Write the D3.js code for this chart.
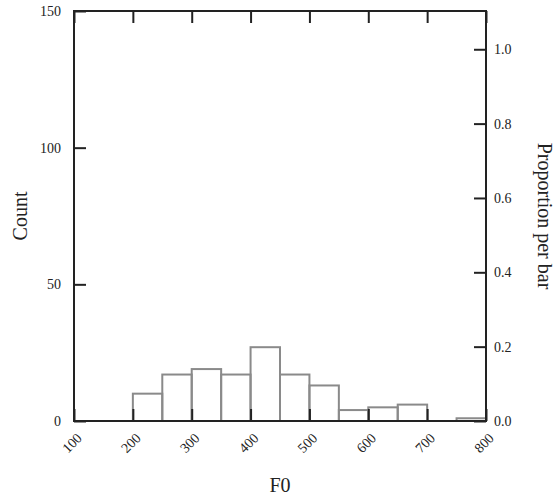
<!DOCTYPE html>
<html>
<head>
<meta charset="utf-8">
<script src="https://cdn.jsdelivr.net/npm/d3@7"></script>
<style>
  body { margin: 0; background: #fff; }
  svg text { font-family: "Liberation Serif", "DejaVu Serif", serif; fill: #222; font-variant-numeric: oldstyle-nums; }
</style>
</head>
<body>
<svg id="chart" width="556" height="501"></svg>
<script>
/*
Chart data
*/
var binStarts = [200, 250, 300, 350, 400, 450, 500, 550, 600, 650, 700, 750];
var binWidth = 50;
var counts = [10, 17, 19, 17, 27, 17, 13, 4, 5, 6, 0, 1];
var xTicks = [100, 200, 300, 400, 500, 600, 700, 800];
var countTicks = [0, 50, 100, 150];
var propTicks = [0, 0.2, 0.4, 0.6, 0.8, 1.0];

var total = d3.sum(counts);

var margin = {top: 11, right: 70, bottom: 80, left: 74};
var width = 556 - margin.left - margin.right;
var height = 501 - margin.top - margin.bottom;

var svg = d3.select("#chart");
var g = svg.append("g")
           .attr("transform", "translate(" + margin.left + "," + margin.top + ")");

var x = d3.scaleLinear().domain([100, 800]).range([0, width]);
var y = d3.scaleLinear().domain([0, 150]).range([height, 0]);
var yProp = d3.scaleLinear().domain([0, 150 / total]).range([height, 0]);

/* bars */
g.selectAll("rect.bar")
 .data(counts)
 .enter()
 .append("rect")
 .attr("class", "bar")
 .attr("x", function(d, i){ return x(binStarts[i]); })
 .attr("width", function(d, i){ return x(binStarts[i] + binWidth) - x(binStarts[i]); })
 .attr("y", function(d){ return y(d); })
 .attr("height", function(d){ return y(0) - y(d); })
 .style("fill", "none")
 .style("stroke", function(d){ return d > 0 ? "#8a8a8a" : "none"; })
 .style("stroke-width", 2);

/* frame */
g.append("rect")
 .attr("width", width)
 .attr("height", height)
 .style("fill", "none")
 .style("stroke", "#222")
 .style("stroke-width", 2);

var tickLen = 12;

/* bottom axis */
var xAxis = g.append("g")
             .attr("transform", "translate(0," + height + ")")
             .call(d3.axisBottom(x).tickValues(xTicks).tickSizeInner(-tickLen).tickSizeOuter(0).tickPadding(10));
xAxis.select(".domain").remove();
xAxis.selectAll("line").style("stroke", "#222").style("stroke-width", 2);
xAxis.selectAll("text")
     .style("font-size", "14px")
     .attr("text-anchor", "end")
     .attr("dy", "0.35em")
     .attr("transform", "translate(2,6) rotate(-45)")
     .attr("x", -4)
     .attr("y", 8);

/* top axis (ticks only) */
var xTop = g.append("g")
            .call(d3.axisTop(x).tickValues(xTicks).tickSizeInner(-tickLen).tickSizeOuter(0).tickFormat(""));
xTop.select(".domain").remove();
xTop.selectAll("line").style("stroke", "#222").style("stroke-width", 2);

/* left axis */
var yAxis = g.append("g")
             .call(d3.axisLeft(y).tickValues(countTicks).tickSizeInner(-tickLen).tickSizeOuter(0).tickPadding(13));
yAxis.select(".domain").remove();
yAxis.selectAll("line").style("stroke", "#222").style("stroke-width", 2);
yAxis.selectAll("text").style("font-size", "14px");

/* right axis */
var yAxisR = g.append("g")
              .attr("transform", "translate(" + width + ",0)")
              .call(d3.axisRight(yProp).tickValues(propTicks).tickSizeInner(-tickLen).tickSizeOuter(0).tickPadding(8).tickFormat(d3.format(".1f")));
yAxisR.select(".domain").remove();
yAxisR.selectAll("line").style("stroke", "#222").style("stroke-width", 2);
yAxisR.selectAll("text").style("font-size", "14px");

/* titles */
svg.append("text")
   .attr("transform", "translate(27," + (margin.top + height / 2) + ") rotate(-90)")
   .attr("text-anchor", "middle")
   .style("font-size", "20px")
   .text("Count");

svg.append("text")
   .attr("transform", "translate(538," + (margin.top + height / 2) + ") rotate(90)")
   .attr("text-anchor", "middle")
   .style("font-size", "20px")
   .text("Proportion per bar");

svg.append("text")
   .attr("x", margin.left + width / 2)
   .attr("y", 492)
   .attr("text-anchor", "middle")
   .style("font-size", "20px")
   .text("F0");
</script>
</body>
</html>
